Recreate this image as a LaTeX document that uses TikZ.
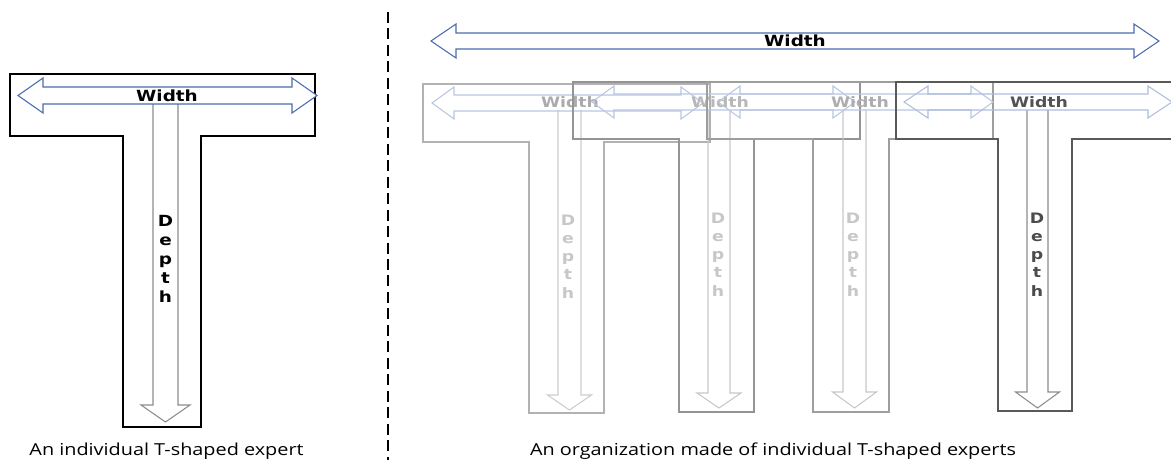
\documentclass[tikz,border=0pt]{standalone}
\usepackage{fontspec}
\setmainfont{Carlito}
\newfontfamily\lblfont[FakeStretch=1.2]{DejaVu Sans}
\newfontfamily\capfont[FakeStretch=1.2]{Open Sans}
\definecolor{wblue}{HTML}{4A6DB0}
\definecolor{fblue}{HTML}{B8C6E2}
% horizontal double arrow: style, left tip x, right tip x, centre y, head length, head half height, shaft half height
\newcommand\hdarrow[7]{\path[#1] (#2,#4) -- (#2+#5,#4-#6) -- (#2+#5,#4-#7) -- (#3-#5,#4-#7) -- (#3-#5,#4-#6) -- (#3,#4) -- (#3-#5,#4+#6) -- (#3-#5,#4+#7) -- (#2+#5,#4+#7) -- (#2+#5,#4+#6) -- cycle;}
% downward arrow: style, centre x, top y, head base y, tip y, shaft half width, head half width
\newcommand\vdarrow[7]{\path[#1] (#2-#6,#3) -- (#2-#6,#4) -- (#2-#7,#4) -- (#2,#5) -- (#2+#7,#4) -- (#2+#6,#4) -- (#2+#6,#3);}
% T outline: style, bar left, bar top, bar bottom, stem left, stem right, bar right, stem bottom
\newcommand\tout[8]{\path[#1] (#2,#3) -- (#7,#3) -- (#7,#4) -- (#6,#4) -- (#6,#8) -- (#5,#8) -- (#5,#4) -- (#2,#4) -- cycle;}
\tikzset{
  lbl/.style={font=\lblfont\bfseries\fontsize{11.5}{13}\selectfont, inner sep=0pt},
  olbl/.style={font=\lblfont\bfseries\fontsize{10.8}{12}\selectfont, inner sep=0pt},
  capt/.style={font=\capfont\fontsize{12.4}{14}\selectfont, inner sep=0pt},
}
\begin{document}
\begin{tikzpicture}[x=0.75pt,y=-0.75pt]
\useasboundingbox (0,0) rectangle (1171,460);
\clip (0,0) rectangle (1171,460);
% ---------------- left: individual T ----------------
\tout{draw=black, fill=white, line width=2.2pt}{10}{74}{136}{123}{201}{315}{427}
\vdarrow{draw=gray!90, fill=white, line width=0.8pt}{165.5}{104}{405}{422}{12.5}{24.5}
\hdarrow{draw=wblue, fill=white, line width=0.8pt}{18}{317}{95.5}{25}{17.5}{8.5}
\node[lbl] (wL) at (167,96) {Width};
\foreach \c [count=\i] in {D,e,p,t,h}
  \node[lbl, anchor=base] (dL\i) at (165.5,{226+19*(\i-1)}) {\c};
% ---------------- divider ----------------
\coordinate (divT) at (388,12);
\coordinate (divB) at (388,460);
\draw[black, line width=1.5pt, dash pattern=on 8.25pt off 4.1pt] (divT) -- (divB);
% ---------------- right: organization ----------------
\hdarrow{draw=wblue, fill=white, line width=0.8pt}{431}{1159}{41}{25}{17}{8}
\node[lbl] (wTop) at (795,41) {Width};
% T1
\begin{scope}[line width=1.4pt]
\tout{draw=black!30}{423}{84}{142}{529}{604}{710}{413}
\vdarrow{draw=black!20, line width=0.8pt}{569.5}{110}{395}{410}{11.5}{22}
\hdarrow{draw=fblue, line width=0.8pt}{432}{703}{103}{22}{16}{8}
\node[olbl, text=black!33] (w1) at (570,102) {Width};
\foreach \c [count=\i] in {D,e,p,t,h}
  \node[olbl, anchor=base, text=black!22] (d1\i) at (568,{225+18.25*(\i-1)}) {\c};
% T2
\tout{draw=black!42}{573}{82}{139}{679}{754}{860}{412}
\vdarrow{draw=black!22, line width=0.8pt}{719}{110}{393}{408}{11}{22}
\hdarrow{draw=fblue, line width=0.8pt}{592}{855}{102}{22}{16}{8}
\node[olbl, text=black!28] (w2) at (720,102) {Width};
\foreach \c [count=\i] in {D,e,p,t,h}
  \node[olbl, anchor=base, text=black!22] (d2\i) at (718,{223+18.25*(\i-1)}) {\c};
% T3
\tout{draw=black!38}{707}{82}{139}{813}{889}{993}{412}
\vdarrow{draw=black!22, line width=0.8pt}{854.5}{110}{392}{408}{11.5}{22}
\hdarrow{draw=fblue, line width=0.8pt}{718}{993}{102}{22}{16}{8}
\node[olbl, text=black!32] (w3) at (860,102) {Width};
\foreach \c [count=\i] in {D,e,p,t,h}
  \node[olbl, anchor=base, text=black!22] (d3\i) at (853,{223+18.25*(\i-1)}) {\c};
% T4
\tout{draw=black!65}{896}{82}{139}{998}{1072}{1183}{411}
\vdarrow{draw=black!45, line width=0.8pt}{1037.5}{110}{392}{408}{10.5}{22}
\hdarrow{draw=wblue!45, line width=0.8pt}{904}{1172}{102}{24}{16}{8}
\node[olbl, text=black!68] (w4) at (1039,102) {Width};
\foreach \c [count=\i] in {D,e,p,t,h}
  \node[olbl, anchor=base, text=black!70] (d4\i) at (1037,{223+18.25*(\i-1)}) {\c};
\end{scope}
% ---------------- captions ----------------
\node[capt] (c1) at (166.5,451) {An individual T-shaped expert};
\node[capt] (c2) at (773,451) {An organization made of individual T-shaped experts};
\end{tikzpicture}
\end{document}
